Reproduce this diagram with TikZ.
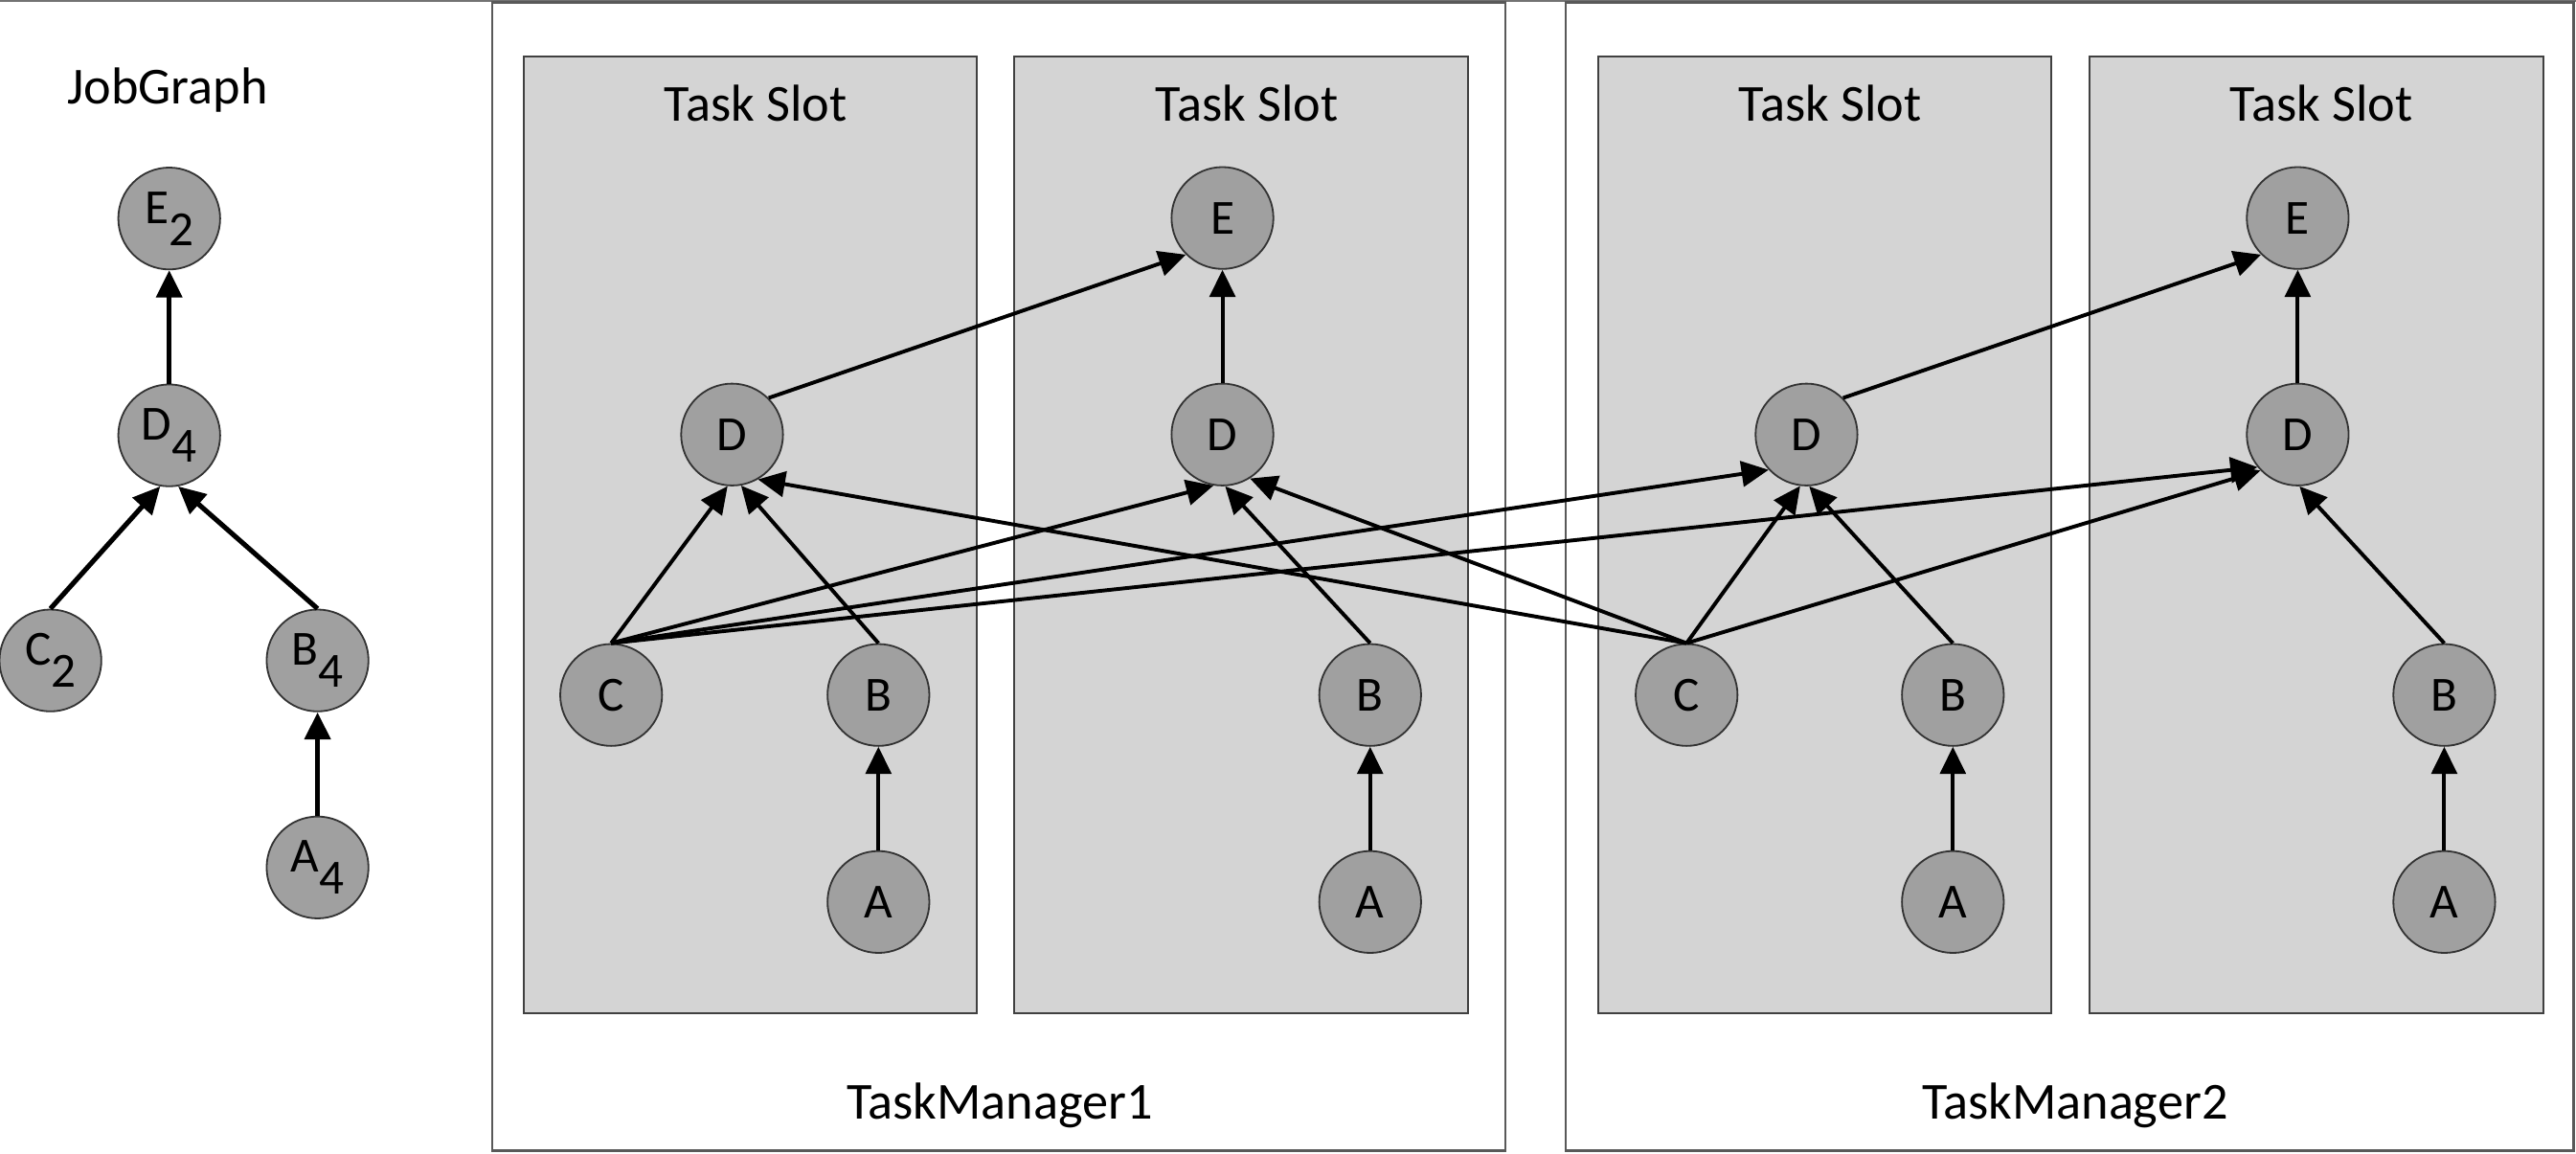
\documentclass[tikz,border=0pt]{standalone}
\usepackage{fontspec}
\setmainfont{Carlito}
\usetikzlibrary{arrows.meta}
\definecolor{slotgray}{HTML}{D4D4D4}
\definecolor{opgray}{HTML}{A0A0A0}
\newcommand{\lowsub}[1]{\raisebox{-0.45em}{#1}}
\tikzset{
	op/.style={circle, draw=black!80, fill=opgray, line width=0.6pt, minimum size=1.24cm, inner sep=0pt, font=\fontsize{17}{20}\selectfont},
	slot/.style={draw=black!75, fill=slotgray, line width=0.7pt},
	tm/.style={draw=black!65, line width=0.8pt},
	lbl/.style={font=\fontsize{18}{21}\selectfont},
	flow/.style={-{Triangle[length=0.33cm,width=0.31cm]}, line width=1.3pt},
	jobflow/.style={flow, line width=1.7pt},
}

\begin{document}
\begin{tikzpicture}[x=0.02cm, y=-0.02cm]
		%%%%% START %%%%%
		\useasboundingbox (0, 0) rectangle (1568, 702);
		\draw[black!55, line width=0.6pt] (0, 0.5) -- (1568, 0.5);
		
		% task managers
		\draw[tm] (299.6, 1.5) rectangle (916.3, 700.3);
		\draw[tm] (952.9, 1.5) rectangle (1566.5, 700.3);
		\node[lbl] (tm1) at (608.5, 673) {TaskManager1};
		\node[lbl] (tm2) at (1263, 673) {TaskManager2};
		
		% task slots
		\draw[slot] (319, 34.6) rectangle (594.8, 616.7);
		\draw[slot] (617.3, 34.6) rectangle (893.6, 616.7);
		\draw[slot] (973.1, 34.6) rectangle (1248.6, 616.7);
		\draw[slot] (1271.8, 34.6) rectangle (1548, 616.7);
		\node[lbl] (ts1) at (460, 63) {Task Slot};
		\node[lbl] (ts2) at (759, 63) {Task Slot};
		\node[lbl] (ts3) at (1114, 63) {Task Slot};
		\node[lbl] (ts4) at (1413, 63) {Task Slot};
		
		% job graph
		\node[lbl] (jg) at (102, 55) {JobGraph};
		\node[op] (jE) at (103, 133) {E\lowsub{2}};
		\node[op] (jD) at (103, 265) {D\lowsub{4}};
		\node[op] (jC) at (30.7, 402) {C\lowsub{2}};
		\node[op] (jB) at (193.3, 402) {B\lowsub{4}};
		\node[op] (jA) at (193.3, 528) {A\lowsub{4}};
		
		\draw[jobflow] (jD.north) -- (jE.south);
		\draw[jobflow] (jC.north) -- (jD.-100);
		\draw[jobflow] (jB.north) -- (jD.-80);
		\draw[jobflow] (jA.north) -- (jB.south);
		
		% slot operators
		\node[op] (d1) at (445.6, 264.5) {D};
		\node[op] (c1) at (372, 423) {C};
		\node[op] (b1) at (534.7, 423) {B};
		\node[op] (a1) at (534.7, 549) {A};
		
		\node[op] (e2) at (744.1, 132.7) {E};
		\node[op] (d2) at (744.1, 264.5) {D};
		\node[op] (b2) at (834, 423) {B};
		\node[op] (a2) at (834, 549) {A};
		
		\node[op] (d3) at (1099.6, 264.5) {D};
		\node[op] (c3) at (1026.6, 423) {C};
		\node[op] (b3) at (1188.7, 423) {B};
		\node[op] (a3) at (1188.7, 549) {A};
		
		\node[op] (e4) at (1398.6, 132.7) {E};
		\node[op] (d4) at (1398.6, 264.5) {D};
		\node[op] (b4) at (1487.8, 423) {B};
		\node[op] (a4) at (1487.8, 549) {A};
		
		% inside the slots
		\draw[flow] (a1.north) -- (b1.south);
		\draw[flow] (a2.north) -- (b2.south);
		\draw[flow] (a3.north) -- (b3.south);
		\draw[flow] (a4.north) -- (b4.south);
		\draw[flow] (b1.north) -- (d1.-80);
		\draw[flow] (b2.north) -- (d2.-87);
		\draw[flow] (b3.north) -- (d3.-87);
		\draw[flow] (b4.north) -- (d4.-88);
		\draw[flow] (d2.north) -- (e2.south);
		\draw[flow] (d4.north) -- (e4.south);
		
		% C to every D
		\draw[flow] (c1.north) -- (d1.-95);
		\draw[flow] (c1.north) -- (d2.-100);
		\draw[flow] (c1.north) -- (d3.223);
		\draw[flow] (c1.north) -- (d4.219);
		\draw[flow] (c3.north) -- (d1.-60);
		\draw[flow] (c3.north) -- (d2.-58);
		\draw[flow] (c3.north) -- (d3.-97);
		\draw[flow] (c3.north) -- (d4.224);
		
		% D to E
		\draw[flow] (d1.45) -- (e2.225);
		\draw[flow] (d3.45) -- (e4.225);
		%%%%% END %%%%%
\end{tikzpicture}
\end{document}
